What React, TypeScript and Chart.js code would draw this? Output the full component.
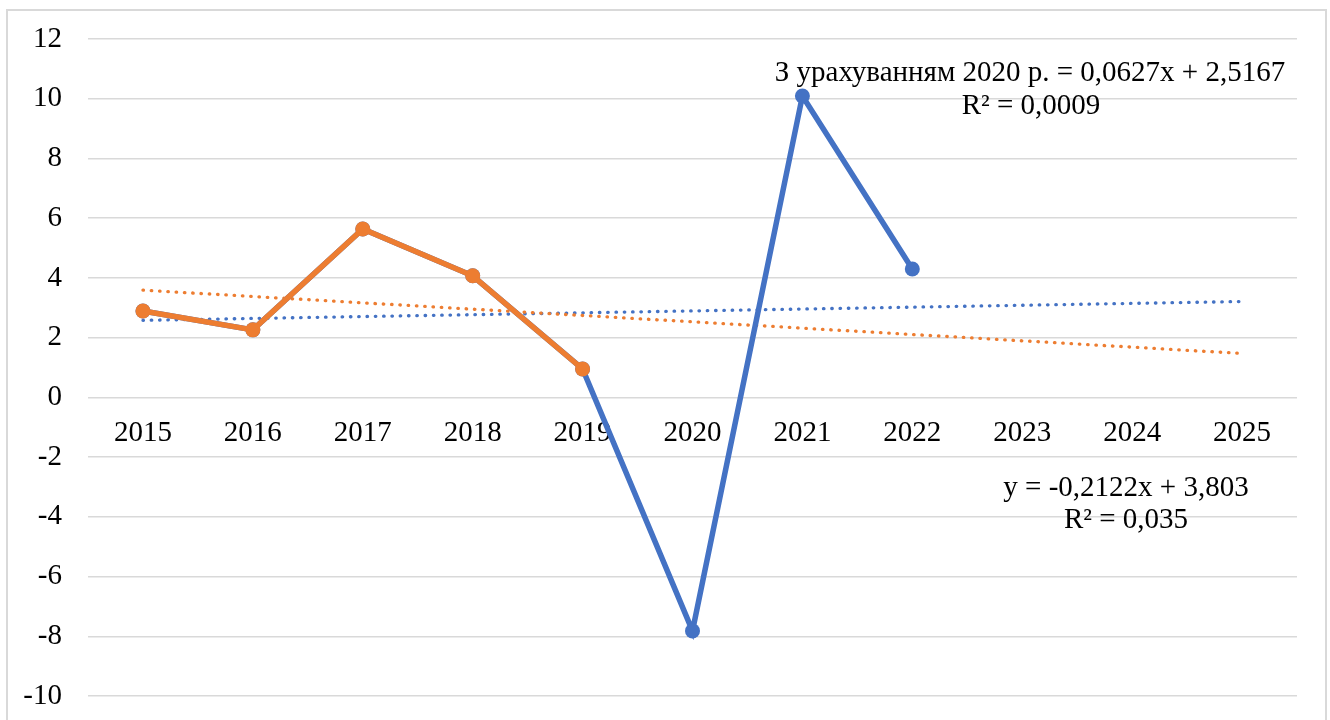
import React, { useEffect, useRef } from "react";
import { Chart, registerables } from "chart.js";

Chart.register(...registerables);

const years = ["2015", "2016", "2017", "2018", "2019", "2020", "2021", "2022", "2023", "2024", "2025"];
const withCovid = [2.89, 2.26, 5.64, 4.07, 0.95, -7.82, 10.09, 4.3];
const withoutCovid = [2.89, 2.26, 5.64, 4.07, 0.95];
const trendWithCovid = [2.58, null, null, null, null, null, null, null, null, null, 3.21];
const trendWithoutCovid = [3.59, null, null, null, null, null, null, null, null, null, 1.47];
const yTicksMin = -10;
const yTicksMax = 12;
const yStep = 2;

const label1 = ["З урахуванням 2020 р. = 0,0627x + 2,5167", "R² = 0,0009"];
const label2 = ["y = -0,2122x + 3,803", "R² = 0,035"];

const BLUE = "#4472C4";
const ORANGE = "#ED7D31";
const FONT = "'Liberation Serif', 'Times New Roman', serif";
const FSIZE = 29;

const annotations = {
  id: "trendLabels",
  afterDraw(chart: any) {
    const ctx = chart.ctx;
    ctx.save();
    ctx.fillStyle = "#000";
    ctx.font = `${FSIZE}px ${FONT}`;
    ctx.textAlign = "center";
    ctx.textBaseline = "middle";
    ctx.fillText(label1[0], 1030, 73);
    ctx.fillText(label1[1], 1031, 106);
    ctx.fillText(label2[0], 1126, 488);
    ctx.fillText(label2[1], 1126, 520);
    ctx.restore();
  },
};

export default function App() {
  const ref = useRef<HTMLCanvasElement | null>(null);
  useEffect(() => {
    if (!ref.current) return;
    const chart = new Chart(ref.current, {
      type: "line",
      data: {
        labels: years,
        datasets: [
          {
            label: "Без 2020",
            data: withoutCovid,
            borderColor: ORANGE,
            backgroundColor: ORANGE,
            borderWidth: 5.5,
            pointRadius: 7.5,
            pointBorderWidth: 0,
            pointHoverRadius: 7.5,
          },
          {
            label: "З урахуванням 2020 р.",
            data: withCovid,
            borderColor: BLUE,
            backgroundColor: BLUE,
            borderWidth: 5.5,
            pointRadius: 7.5,
            pointBorderWidth: 0,
            pointHoverRadius: 7.5,
          },
          {
            label: "Тренд без 2020",
            data: trendWithoutCovid,
            borderColor: ORANGE,
            borderWidth: 3.3,
            borderDash: [0.5, 7.8],
            borderCapStyle: "round",
            pointRadius: 0,
            spanGaps: true,
          },
          {
            label: "Тренд з 2020",
            data: trendWithCovid,
            borderColor: BLUE,
            borderWidth: 3.3,
            borderDash: [0.5, 7.8],
            borderCapStyle: "round",
            pointRadius: 0,
            spanGaps: true,
          },
        ] as any,
      },
      options: {
        animation: false,
        responsive: false,
        events: [],
        layout: { padding: { left: 0, top: 39, right: 33, bottom: 24 } },
        plugins: {
          legend: { display: false },
          tooltip: { enabled: false },
        },
        scales: {
          x: {
            position: { y: 0 } as any,
            offset: true,
            grid: { display: false, drawTicks: false },
            border: { display: false },
            ticks: {
              color: "#000",
              font: { family: FONT, size: FSIZE },
              padding: 19,
              maxRotation: 0,
              autoSkip: false,
            },
            afterFit: (s: any) => {
              s.height = 0;
              s.paddingLeft = 0;
              s.paddingRight = 0;
              s.paddingTop = 0;
              s.paddingBottom = 0;
            },
          },
          y: {
            min: yTicksMin,
            max: yTicksMax,
            grid: { color: "#d9d9d9", lineWidth: 1.5, drawTicks: false },
            border: { display: false },
            ticks: {
              stepSize: yStep,
              color: "#000",
              font: { family: FONT, size: FSIZE },
              padding: 26,
              callback: (v: any) => String(v),
            },
            afterFit: (s: any) => {
              s.width = 88;
              s.paddingTop = 0;
              s.paddingBottom = 0;
              s.paddingLeft = 0;
              s.paddingRight = 0;
            },
          },
        },
      },
      plugins: [annotations],
    });
    return () => chart.destroy();
  }, []);

  return (
    <div style={{ position: "fixed", left: 0, top: 0, width: 1330, height: 720, overflow: "hidden", background: "#fff" }}>
      <div
        style={{
          position: "absolute",
          left: 6,
          top: 9,
          width: 1321,
          height: 800,
          border: "2px solid #d9d9d9",
          boxSizing: "border-box",
        }}
      />
      <canvas ref={ref} width={1330} height={720} style={{ position: "absolute", left: 0, top: 0 }} />
    </div>
  );
}
